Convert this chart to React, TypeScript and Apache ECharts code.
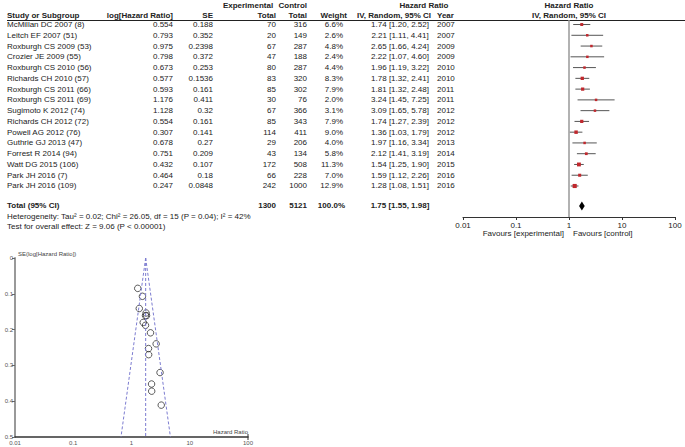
import React, { useEffect, useRef } from "react";
import * as echarts from "echarts";

// ---------- data ----------
const studies = [
  "McMillan DC 2007 (8)",
  "Leitch EF 2007 (51)",
  "Roxburgh CS 2009 (53)",
  "Crozier JE 2009 (55)",
  "Roxburgh CS 2010 (56)",
  "Richards CH 2010 (57)",
  "Roxburgh CS 2011 (66)",
  "Roxburgh CS 2011 (69)",
  "Sugimoto K 2012 (74)",
  "Richards CH 2012 (72)",
  "Powell AG 2012 (76)",
  "Guthrie GJ 2013 (47)",
  "Forrest R 2014 (94)",
  "Watt DG 2015 (106)",
  "Park JH 2016 (7)",
  "Park JH 2016 (109)",
];
const logHR = ["0.554", "0.793", "0.975", "0.798", "0.673", "0.577", "0.593", "1.176", "1.128", "0.554", "0.307", "0.678", "0.751", "0.432", "0.464", "0.247"];
const seText = ["0.188", "0.352", "0.2398", "0.372", "0.253", "0.1536", "0.161", "0.411", "0.32", "0.161", "0.141", "0.27", "0.209", "0.107", "0.18", "0.0848"];
const expTotal = [70, 20, 67, 47, 80, 83, 85, 30, 67, 85, 114, 29, 43, 172, 66, 242];
const ctrlTotal = [316, 149, 287, 188, 287, 320, 302, 76, 366, 343, 411, 206, 134, 508, 228, 1000];
const weights = [6.6, 2.6, 4.8, 2.4, 4.4, 8.3, 7.9, 2.0, 3.1, 7.9, 9.0, 4.0, 5.8, 11.3, 7.0, 12.9];
const hrEst = [1.74, 2.21, 2.65, 2.22, 1.96, 1.78, 1.81, 3.24, 3.09, 1.74, 1.36, 1.97, 2.12, 1.54, 1.59, 1.28];
const ciLow = [1.2, 1.11, 1.66, 1.07, 1.19, 1.32, 1.32, 1.45, 1.65, 1.27, 1.03, 1.16, 1.41, 1.25, 1.12, 1.08];
const ciHigh = [2.52, 4.41, 4.24, 4.6, 3.22, 2.41, 2.48, 7.25, 5.78, 2.39, 1.79, 3.34, 3.19, 1.9, 2.26, 1.51];
const years = [2007, 2007, 2009, 2009, 2010, 2010, 2011, 2011, 2012, 2012, 2012, 2013, 2014, 2015, 2016, 2016];

const totalExp = 1300;
const totalCtrl = 5121;
const totalWeight = 100.0;
const totalHR = [1.75, 1.55, 1.98]; // estimate, low, high
const heterogeneityText = "Heterogeneity: Tau² = 0.02; Chi² = 26.05, df = 15 (P = 0.04); I² = 42%";
const overallText = "Test for overall effect: Z = 9.06 (P < 0.00001)";

// funnel plot guide lines
const funnelApex = [1.75, 0];
const funnelCentreEnd = [1.75, 0.5];
const funnelLeftEnd = [0.66, 0.5];
const funnelRightEnd = [4.66, 0.5];

// ---------- layout ----------
const FONT = "Liberation Sans, Arial, Helvetica, sans-serif";
const FG = { left: 463, top: 20, width: 212, height: 197 };
const Y_MIN = -0.42;
const Y_MAX = 17.88;
const TOTAL_ROW = 16.85;
const rowPx = (i: number) => FG.top + ((i - Y_MIN) * FG.height) / (Y_MAX - Y_MIN);
const FUN = { left: 15, top: 258, width: 233, height: 179 };

const col = {
  study: 7,
  logHR: 173,
  se: 213,
  exp: 276,
  ctrl: 307,
  weight: 343,
  hr: 400,
  year: 437,
};

function txt(text: string, x: number, y: number, align = "left", bold = false, size = 8, fill = "#222") {
  return {
    type: "text",
    x,
    y,
    silent: true,
    style: {
      text,
      fill,
      fontSize: size,
      fontWeight: bold ? "bold" : "normal",
      fontFamily: FONT,
      align,
      verticalAlign: "middle",
    },
  };
}

export default function App() {
  const ref = useRef<HTMLDivElement>(null);
  useEffect(() => {
    if (!ref.current) return;
    const chart = echarts.init(ref.current, null, { renderer: "svg" });

    const graphics: any[] = [];
    const h1 = 5;
    const h2 = 15;
    graphics.push(txt("Experimental", 248, h1, "center", true));
    graphics.push(txt("Control", col.ctrl, h1, "right", true));
    graphics.push(txt("Hazard Ratio", 424, h1, "center", true));
    graphics.push(txt("Hazard Ratio", FG.left + FG.width / 2, h1, "center", true));
    graphics.push(txt("Study or Subgroup", col.study, h2, "left", true));
    graphics.push(txt("log[Hazard Ratio]", col.logHR, h2, "right", true));
    graphics.push(txt("SE", col.se, h2, "right", true));
    graphics.push(txt("Total", col.exp, h2, "right", true));
    graphics.push(txt("Total", col.ctrl, h2, "right", true));
    graphics.push(txt("Weight", col.weight + 4, h2, "right", true));
    graphics.push(txt("IV, Random, 95% CI", 394, h2, "center", true));
    graphics.push(txt("Year", col.year, h2, "left", true));
    graphics.push(txt("IV, Random, 95% CI", FG.left + FG.width / 2, h2, "center", true));
    graphics.push({
      type: "line",
      silent: true,
      shape: { x1: 7, y1: 20.5, x2: 685, y2: 20.5 },
      style: { stroke: "#222", lineWidth: 1 },
    });
    // forest axis baseline (drawn along the grid's bottom edge)
    graphics.push({
      type: "line",
      silent: true,
      shape: { x1: FG.left, y1: FG.top + FG.height + 0.5, x2: FG.left + FG.width, y2: FG.top + FG.height + 0.5 },
      style: { stroke: "#333", lineWidth: 1.2 },
    });

    studies.forEach((s, i) => {
      const y = rowPx(i);
      graphics.push(txt(s, col.study, y));
      graphics.push(txt(logHR[i], col.logHR, y, "right"));
      graphics.push(txt(seText[i], col.se, y, "right"));
      graphics.push(txt(String(expTotal[i]), col.exp, y, "right"));
      graphics.push(txt(String(ctrlTotal[i]), col.ctrl, y, "right"));
      graphics.push(txt(weights[i].toFixed(1) + "%", col.weight, y, "right"));
      graphics.push(
        txt(`${hrEst[i].toFixed(2)} [${ciLow[i].toFixed(2)}, ${ciHigh[i].toFixed(2)}]`, col.hr, y, "center")
      );
      graphics.push(txt(String(years[i]), col.year, y));
    });
    const ty = rowPx(TOTAL_ROW);
    graphics.push(txt("Total (95% CI)", col.study, ty, "left", true));
    graphics.push(txt(String(totalExp), col.exp, ty, "right", true));
    graphics.push(txt(String(totalCtrl), col.ctrl, ty, "right", true));
    graphics.push(txt(totalWeight.toFixed(1) + "%", col.weight + 2, ty, "right", true));
    graphics.push(
      txt(`${totalHR[0].toFixed(2)} [${totalHR[1].toFixed(2)}, ${totalHR[2].toFixed(2)}]`, col.hr, ty, "center", true)
    );
    graphics.push(txt(heterogeneityText, col.study, ty + 10.5));
    graphics.push(txt(overallText, col.study, ty + 21));
    graphics.push(txt("Favours [experimental]", 564, 233, "right"));
    graphics.push(txt("Favours [control]", 573, 233, "left"));

    // funnel labels
    graphics.push(txt("SE(log[Hazard Ratio])", FUN.left + 3, FUN.top - 4, "left", false, 6, "#444"));
    graphics.push(txt("Hazard Ratio", FUN.left + FUN.width, FUN.top + FUN.height - 5, "right", false, 6, "#444"));
    graphics.push({
      type: "line",
      silent: true,
      shape: {
        x1: FUN.left + FUN.width,
        y1: FUN.top + FUN.height - 3,
        x2: FUN.left + FUN.width,
        y2: FUN.top + FUN.height + 3,
      },
      style: { stroke: "#333", lineWidth: 1 },
    });

    const funnelLine = (pts: number[][]) => ({
      type: "line",
      xAxisIndex: 1,
      yAxisIndex: 1,
      data: pts,
      symbol: "none",
      silent: true,
      lineStyle: { color: "#7c7cd0", width: 1, type: [3, 2] },
    });

    const option: any = {
      animation: false,
      backgroundColor: "#fff",
      grid: [
        { left: FG.left, top: FG.top, width: FG.width, height: FG.height },
        { left: FUN.left, top: FUN.top, width: FUN.width, height: FUN.height },
      ],
      xAxis: [
        {
          gridIndex: 0,
          type: "log",
          logBase: 10,
          min: 0.01,
          max: 100,
          position: "bottom",
          axisLine: { show: true, onZero: false, lineStyle: { color: "#333", width: 1.2 } },
          axisTick: { show: true, length: 3, lineStyle: { color: "#333" } },
          axisLabel: { fontSize: 8, color: "#222", fontFamily: FONT, margin: 4 },
          splitLine: { show: false },
        },
        {
          gridIndex: 1,
          type: "log",
          logBase: 10,
          min: 0.01,
          max: 100,
          position: "bottom",
          axisLine: { show: true, onZero: false, lineStyle: { color: "#333", width: 1.5 } },
          axisTick: { show: false },
          axisLabel: { fontSize: 6, color: "#555", fontFamily: FONT, margin: 3 },
          splitLine: { show: false },
        },
      ],
      yAxis: [
        {
          gridIndex: 0,
          type: "value",
          inverse: true,
          min: Y_MIN,
          max: Y_MAX,
          axisLine: { show: false },
          axisTick: { show: false },
          axisLabel: { show: false },
          splitLine: { show: false },
        },
        {
          gridIndex: 1,
          type: "value",
          inverse: true,
          min: 0,
          max: 0.5,
          interval: 0.1,
          axisLine: { show: true, onZero: false, lineStyle: { color: "#999", width: 2 } },
          axisTick: { show: true, length: 3, lineStyle: { color: "#666" } },
          axisLabel: { fontSize: 6, color: "#555", fontFamily: FONT, margin: 2 },
          splitLine: { show: false },
        },
      ],
      series: [
        {
          type: "line",
          xAxisIndex: 0,
          yAxisIndex: 0,
          data: [
            [1, Y_MIN],
            [1, Y_MAX],
          ],
          symbol: "none",
          silent: true,
          lineStyle: { color: "#999", width: 1.5 },
        },
        {
          type: "custom",
          xAxisIndex: 0,
          yAxisIndex: 0,
          silent: true,
          data: studies.map((_, i) => [ciLow[i], ciHigh[i], hrEst[i], i, weights[i]]),
          encode: { x: [0, 1, 2], y: 3 },
          renderItem: (params: any, api: any) => {
            const lo = api.coord([api.value(0), api.value(3)]);
            const hi = api.coord([api.value(1), api.value(3)]);
            const c = api.coord([api.value(2), api.value(3)]);
            const s = Math.max(2.5, Math.sqrt(api.value(4)) * 1.15);
            return {
              type: "group",
              children: [
                {
                  type: "line",
                  shape: { x1: lo[0], y1: lo[1], x2: hi[0], y2: hi[1] },
                  style: { stroke: "#555", lineWidth: 1 },
                },
                {
                  type: "rect",
                  shape: { x: c[0] - s / 2, y: c[1] - s / 2, width: s, height: s },
                  style: { fill: "#c0282d" },
                },
              ],
            };
          },
        },
        {
          type: "custom",
          xAxisIndex: 0,
          yAxisIndex: 0,
          silent: true,
          data: [[totalHR[1], totalHR[2], totalHR[0], TOTAL_ROW]],
          encode: { x: [0, 1, 2], y: 3 },
          renderItem: (params: any, api: any) => {
            const lo = api.coord([api.value(0), api.value(3)]);
            const hi = api.coord([api.value(1), api.value(3)]);
            const c = api.coord([api.value(2), api.value(3)]);
            return {
              type: "polygon",
              shape: {
                points: [
                  [lo[0], lo[1]],
                  [c[0], c[1] - 4.5],
                  [hi[0], hi[1]],
                  [c[0], c[1] + 4.5],
                ],
              },
              style: { fill: "#000" },
            };
          },
        },
        funnelLine([funnelApex, funnelCentreEnd]),
        funnelLine([funnelApex, funnelLeftEnd]),
        funnelLine([funnelApex, funnelRightEnd]),
        {
          type: "scatter",
          xAxisIndex: 1,
          yAxisIndex: 1,
          symbol: "circle",
          symbolSize: 6.5,
          silent: true,
          data: hrEst.map((h, i) => [h, parseFloat(seText[i])]),
          itemStyle: { color: "rgba(255,255,255,0)", borderColor: "#333", borderWidth: 1 },
        },
      ],
      graphic: graphics,
    };
    chart.setOption(option);
    return () => chart.dispose();
  }, []);

  return (
    <div
      ref={ref}
      style={{ position: "fixed", left: 0, top: 0, width: 685, height: 447, background: "#fff" }}
    />
  );
}
